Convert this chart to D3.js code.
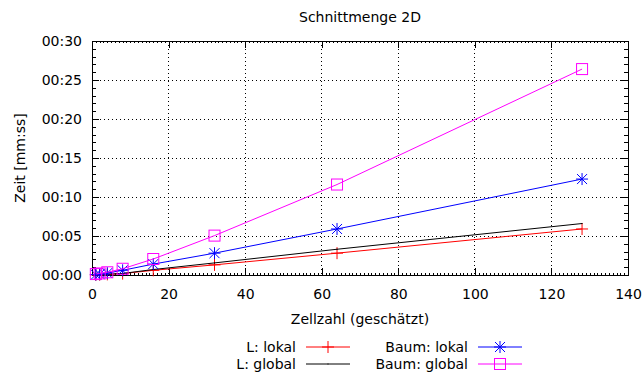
<!DOCTYPE html>
<html>
<head>
<meta charset="utf-8">
<script src="https://cdn.jsdelivr.net/npm/d3@7"></script>
<style>
  body { margin: 0; background: #fff; }
  svg { font-family: 'DejaVu Sans', sans-serif; }
</style>
</head>
<body>
<svg id="chart" width="643" height="377"></svg>
<script>
// cell counts (x) and times in seconds (y)
const cells = [1, 2, 4, 8, 16, 32, 64, 128];
const lLokal = [0.02, 0.04, 0.08, 0.18, 0.6, 1.3, 2.8, 5.9];
const lGlobal = [0.02, 0.04, 0.09, 0.2, 0.7, 1.55, 3.3, 6.6];
const baumLokal = [0.05, 0.1, 0.25, 0.6, 1.4, 2.8, 5.9, 12.3];
const baumGlobal = [0.12, 0.2, 0.35, 0.8, 2.05, 5.05, 11.6, 26.4];

const xTicks = [0, 20, 40, 60, 80, 100, 120, 140];
const yTicks = [0, 5, 10, 15, 20, 25, 30];

const series = [
  { name: 'L: lokal', values: lLokal, color: '#ff0000', marker: 'plus' },
  { name: 'L: global', values: lGlobal, color: '#000000', marker: 'dot' },
  { name: 'Baum: lokal', values: baumLokal, color: '#0000ff', marker: 'star' },
  { name: 'Baum: global', values: baumGlobal, color: '#ff00ff', marker: 'square' }
];

const mLeft = 92, mRight = 628, mTop = 41, mBottom = 275;
const fs = 14;
const svg = d3.select('#chart');

const x = d3.scaleLinear().domain([0, 140]).range([mLeft, mRight]);
const y = d3.scaleLinear().domain([0, 30]).range([mBottom, mTop]);

const fmt = s => '00:' + String(s).padStart(2, '0');

// grid
const grid = svg.append('g').attr('stroke', '#000').attr('stroke-width', 1)
  .attr('stroke-dasharray', '1,3').attr('shape-rendering', 'crispEdges');
xTicks.slice(1, -1).forEach(t => {
  grid.append('line').attr('x1', x(t)).attr('x2', x(t)).attr('y1', mTop).attr('y2', mBottom);
});
yTicks.slice(1, -1).forEach(t => {
  grid.append('line').attr('x1', mLeft).attr('x2', mRight).attr('y1', y(t)).attr('y2', y(t));
});

// axes
svg.append('g').attr('transform', `translate(${mLeft},0)`)
  .call(d3.axisLeft(y).tickValues(yTicks).tickFormat(fmt).tickSizeInner(-7).tickSizeOuter(0).tickPadding(10));
svg.append('g').attr('transform', `translate(${mRight},0)`)
  .call(d3.axisRight(y).tickValues(yTicks).tickFormat('').tickSizeInner(-7).tickSizeOuter(0));
svg.append('g').attr('transform', `translate(0,${mBottom})`)
  .call(d3.axisBottom(x).tickValues(xTicks).tickSizeInner(-7).tickSizeOuter(0).tickPadding(14));
svg.append('g').attr('transform', `translate(0,${mTop})`)
  .call(d3.axisTop(x).tickValues(xTicks).tickFormat('').tickSizeInner(-7).tickSizeOuter(0));

// minor ticks
svg.append('g').attr('transform', `translate(${mLeft},0)`)
  .call(d3.axisLeft(y).tickValues(d3.range(0, 31)).tickFormat('').tickSizeInner(-4).tickSizeOuter(0));
svg.append('g').attr('transform', `translate(${mRight},0)`)
  .call(d3.axisRight(y).tickValues(d3.range(0, 31)).tickFormat('').tickSizeInner(-4).tickSizeOuter(0));
svg.append('g').attr('transform', `translate(0,${mBottom})`)
  .call(d3.axisBottom(x).tickValues(d3.range(0, 141)).tickFormat('').tickSizeInner(-2).tickSizeOuter(0));
svg.append('g').attr('transform', `translate(0,${mTop})`)
  .call(d3.axisTop(x).tickValues(d3.range(0, 141)).tickFormat('').tickSizeInner(-2).tickSizeOuter(0));

svg.selectAll('.domain').remove();
svg.selectAll('.tick line').attr('stroke', '#000').attr('shape-rendering', 'crispEdges');
svg.selectAll('.tick text').attr('font-size', fs).attr('fill', '#000').attr('font-family', 'DejaVu Sans, sans-serif');

svg.append('rect').attr('x', mLeft).attr('y', mTop).attr('width', mRight - mLeft).attr('height', mBottom - mTop)
  .attr('fill', 'none').attr('stroke', '#000').attr('stroke-width', 1).attr('shape-rendering', 'crispEdges');

// markers
function drawMarker(g, m, cx, cy, color) {
  if (m === 'plus') {
    g.append('path').attr('d', `M${cx - 6},${cy}H${cx + 6}M${cx},${cy - 6}V${cy + 6}`)
      .attr('stroke', color).attr('fill', 'none');
  } else if (m === 'star') {
    g.append('path').attr('d', `M${cx - 6},${cy}H${cx + 6}M${cx},${cy - 6}V${cy + 6}M${cx - 5},${cy - 5}L${cx + 5},${cy + 5}M${cx - 5},${cy + 5}L${cx + 5},${cy - 5}`)
      .attr('stroke', color).attr('fill', 'none');
  } else if (m === 'square') {
    g.append('rect').attr('x', cx - 5.5).attr('y', cy - 5.5).attr('width', 11).attr('height', 11)
      .attr('stroke', color).attr('fill', 'none');
  } else {
    g.append('rect').attr('x', cx - 0.5).attr('y', cy - 0.5).attr('width', 1).attr('height', 1).attr('fill', color);
  }
}

const line = d3.line().x(d => x(d[0])).y(d => y(d[1]));
const plot = svg.append('g');
series.forEach(s => {
  const pts = cells.map((c, i) => [c, s.values[i]]);
  plot.append('path').datum(pts).attr('d', line).attr('fill', 'none')
    .attr('stroke', s.color).attr('stroke-width', 1);
  const mg = plot.append('g');
  pts.forEach(p => drawMarker(mg, s.marker, x(p[0]), y(p[1]), s.color));
});

// titles
svg.append('text').attr('x', 360).attr('y', 22).attr('text-anchor', 'middle')
  .attr('font-size', fs).text('Schnittmenge 2D');
svg.append('text').attr('transform', 'translate(25,158) rotate(-90)').attr('text-anchor', 'middle')
  .attr('font-size', fs).text('Zeit [mm:ss]');
svg.append('text').attr('x', 360).attr('y', 324).attr('text-anchor', 'middle')
  .attr('font-size', fs).text('Zellzahl (geschätzt)');

// legend
const legPos = [[296, 352], [296, 369], [468, 352], [468, 369]];
series.forEach((s, i) => {
  const [lx, ly] = legPos[i];
  svg.append('text').attr('x', lx).attr('y', ly).attr('text-anchor', 'end')
    .attr('font-size', fs).text(s.name);
  svg.append('line').attr('x1', lx + 10).attr('x2', lx + 54).attr('y1', ly - 5).attr('y2', ly - 5)
    .attr('stroke', s.color);
  drawMarker(svg.append('g'), s.marker, lx + 32, ly - 5, s.color);
});
</script>
</body>
</html>
